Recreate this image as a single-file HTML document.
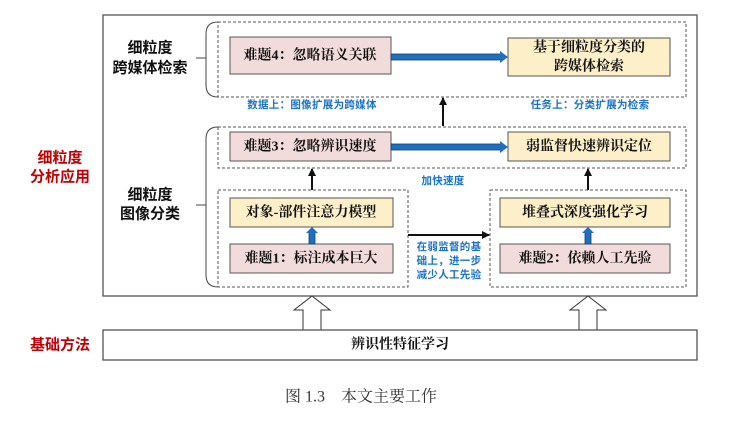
<!DOCTYPE html>
<html><head><meta charset="utf-8"><style>
html,body{margin:0;padding:0;background:#fff}
svg{display:block}
.t{font-family:"Liberation Serif","Noto Serif CJK SC",serif;font-weight:bold;font-size:14px;fill:#111;text-anchor:middle;dominant-baseline:central}
.b{font-family:"Liberation Sans","Noto Sans CJK SC",sans-serif;font-weight:bold;font-size:10.5px;fill:#1a73c8;text-anchor:middle;dominant-baseline:central;letter-spacing:0.3px}
.r{font-family:"Liberation Sans","Noto Sans CJK SC",sans-serif;font-weight:bold;font-size:15px;fill:#c00000;text-anchor:middle;dominant-baseline:central}
.l{font-family:"Liberation Sans","Noto Sans CJK SC",sans-serif;font-weight:bold;font-size:15px;fill:#111;text-anchor:middle;dominant-baseline:central}
</style></head><body>
<svg width="754" height="441" viewBox="0 0 754 441">
<defs>
<marker id="ah" markerWidth="8" markerHeight="8" refX="7" refY="4" orient="auto" markerUnits="userSpaceOnUse"><path d="M0,0 L8,4 L0,8 z" fill="#111"/></marker>
</defs>
<rect x="103" y="15" width="594" height="281" fill="#fff" stroke="#555" stroke-width="1.3"/>
<rect x="218" y="22" width="468" height="75" fill="none" stroke="#555" stroke-dasharray="3,2"/>
<path d="M218,22 Q206,22 206,34 L206,85 Q206,97 218,97" fill="none" stroke="#444"/>
<line x1="196" y1="58" x2="206" y2="58" stroke="#444"/>
<text class="l" x="150" y="48">细粒度</text><text class="l" x="150" y="68">跨媒体检索</text>
<rect x="230" y="37" width="161" height="37" fill="#f2dcdb" stroke="#555"/>
<text class="t" x="310" y="56">难题4：忽略语义关联</text>
<rect x="508" y="38" width="162" height="38" fill="#fdf0c8" stroke="#555"/>
<text class="t" x="589" y="48">基于细粒度分类的</text><text class="t" x="589" y="67">跨媒体检索</text>
<rect x="391" y="54" width="110" height="6" fill="#1f6fbf" stroke="#1a3f6f" stroke-width="0.8"/>
<path d="M500,51 L508,57 L500,63 z" fill="#1f6fbf"/>
<text class="b" x="312" y="105">数据上：图像扩展为跨媒体</text>
<text class="b" x="590" y="105">任务上：分类扩展为检索</text>
<line x1="443" y1="126" x2="443" y2="98" stroke="#111" stroke-width="2" marker-end="url(#ah)"/>
<rect x="218" y="127" width="468" height="41" fill="none" stroke="#555" stroke-dasharray="3,2"/>
<path d="M218,127 Q206,127 206,139 L206,275 Q206,287 218,287" fill="none" stroke="#444"/>
<line x1="196" y1="205" x2="206" y2="205" stroke="#444"/>
<text class="l" x="150" y="195">细粒度</text><text class="l" x="150" y="214">图像分类</text>
<rect x="230" y="132" width="161" height="29" fill="#f2dcdb" stroke="#555"/>
<text class="t" x="310" y="147">难题3：忽略辨识速度</text>
<rect x="508" y="132" width="162" height="29" fill="#fdf0c8" stroke="#555"/>
<text class="t" x="589" y="147">弱监督快速辨识定位</text>
<rect x="391" y="144" width="110" height="6" fill="#1f6fbf" stroke="#1a3f6f" stroke-width="0.8"/>
<path d="M500,141 L508,147 L500,153 z" fill="#1f6fbf"/>
<text class="b" x="443" y="181">加快速度</text>
<line x1="312" y1="190" x2="312" y2="169" stroke="#111" stroke-width="2" marker-end="url(#ah)"/>
<line x1="588" y1="190" x2="588" y2="169" stroke="#111" stroke-width="2" marker-end="url(#ah)"/>
<rect x="218" y="190" width="190" height="97" fill="none" stroke="#555" stroke-dasharray="3,2"/>
<rect x="490" y="190" width="196" height="97" fill="none" stroke="#555" stroke-dasharray="3,2"/>
<rect x="230" y="198" width="163" height="29" fill="#fdf0c8" stroke="#555"/>
<text class="t" x="311" y="213">对象-部件注意力模型</text>
<rect x="230" y="244" width="163" height="29" fill="#f2dcdb" stroke="#555"/>
<text class="t" x="311" y="259">难题1：标注成本巨大</text>
<rect x="309" y="232" width="6" height="12" fill="#1f6fbf" stroke="#1a3f6f" stroke-width="0.8"/>
<path d="M306,233 L312,227 L318,233 z" fill="#1f6fbf"/>
<rect x="500" y="198" width="170" height="29" fill="#fdf0c8" stroke="#555"/>
<text class="t" x="585" y="213">堆叠式深度强化学习</text>
<rect x="500" y="244" width="170" height="29" fill="#f2dcdb" stroke="#555"/>
<text class="t" x="585" y="259">难题2：依赖人工先验</text>
<rect x="585" y="232" width="6" height="12" fill="#1f6fbf" stroke="#1a3f6f" stroke-width="0.8"/>
<path d="M582,233 L588,227 L594,233 z" fill="#1f6fbf"/>
<line x1="408" y1="235" x2="489" y2="235" stroke="#111" stroke-width="2" marker-end="url(#ah)"/>
<text class="b" x="449" y="247">在弱监督的基</text>
<text class="b" x="449" y="261">础上，进一步</text>
<text class="b" x="449" y="275">减少人工先验</text>
<text class="r" x="60" y="158">细粒度</text><text class="r" x="60" y="177">分析应用</text>
<text class="r" x="60" y="345">基础方法</text>
<path d="M303,330 L303,310 L294,310 L312,296 L330,310 L321,310 L321,330" fill="#fff" stroke="#333"/>
<path d="M579,330 L579,310 L570,310 L588,296 L606,310 L597,310 L597,330" fill="#fff" stroke="#333"/>
<rect x="103" y="330" width="594" height="30" fill="#fff" stroke="#555" stroke-width="1.3"/>
<text class="t" x="400" y="345">辨识性特征学习</text>
<text x="361" y="397" style="font-family:'Liberation Serif','Noto Serif CJK SC',serif;font-size:16px;fill:#333;text-anchor:middle;dominant-baseline:central">图 1.3　本文主要工作</text>
</svg>
</body></html>
